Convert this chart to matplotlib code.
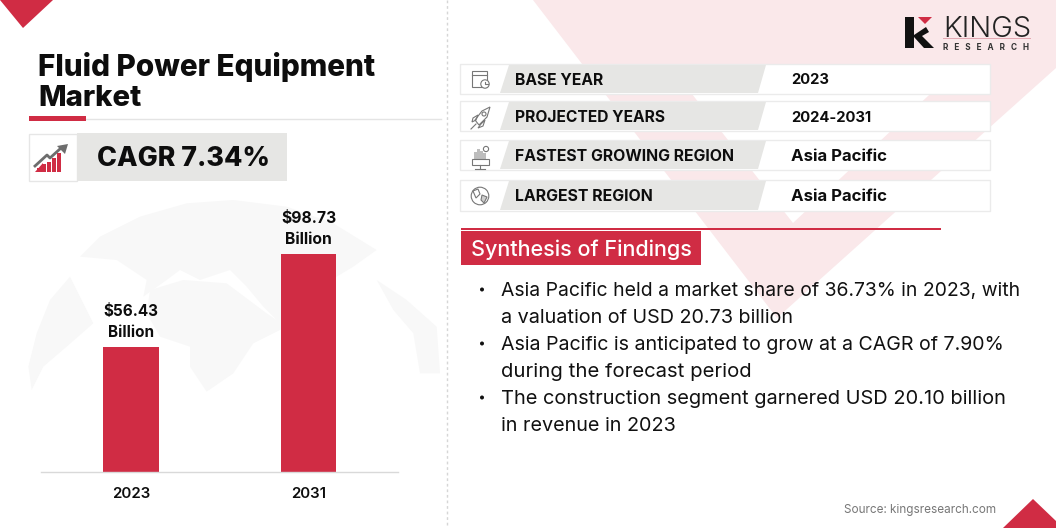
import matplotlib
matplotlib.use("Agg")
import numpy as np
import matplotlib.pyplot as plt
from matplotlib.patches import Polygon, Rectangle, Circle

plt.rcParams['font.family'] = ['Inter', 'DejaVu Sans']

# ---------- data ----------
years = ["2023", "2031"]
market_values = [56.43, 98.73]
value_unit = "Billion"
title_lines = ["Fluid Power Equipment", "Market"]
cagr_text = "CAGR 7.34%"
row_labels = ["BASE YEAR", "PROJECTED YEARS", "FASTEST GROWING REGION", "LARGEST REGION"]
row_values = ["2023", "2024-2031", "Asia Pacific", "Asia Pacific"]
findings_title = "Synthesis of Findings"
findings_lines = [
    "Asia Pacific held a market share of 36.73% in 2023, with",
    "a valuation of USD 20.73 billion",
    "Asia Pacific is anticipated to grow at a CAGR of 7.90%",
    "during the forecast period",
    "The construction segment garnered USD 20.10 billion",
    "in revenue in 2023",
]
source_text = "Source: kingsresearch.com"

RED = "#d02c44"
PINK = "#fae8ea"
GRAY = "#e6e6e4"
INK = "#0d0d0d"
W, H = 1056, 528

fig = plt.figure(figsize=(W / 100, H / 100), dpi=100, facecolor="white")
bg = fig.add_axes([0, 0, 1, 1], zorder=0)
bg.set_xlim(0, W); bg.set_ylim(H, 0); bg.axis("off")
renderer = fig.canvas.get_renderer()


def fit(t, width):
    """Scale a text object so that its rendered width is the given pixels."""
    for _ in range(3):
        w = t.get_window_extent(renderer).width
        t.set_fontsize(t.get_fontsize() * width / w)
    return t


def put(x, y, s, width, weight=500, color=INK, ha="left", size=12, ax=bg):
    t = ax.text(x, y, s, fontweight=weight, color=color, ha=ha, va="center_baseline", fontsize=size, zorder=10)
    return fit(t, width)


def poly(pts, **kw):
    kw.setdefault("lw", 0)
    p = Polygon(pts, closed=True, **kw)
    bg.add_patch(p)
    return p


def rect(x0, y0, x1, y1, **kw):
    kw.setdefault("lw", 0)
    r = Rectangle((x0, y0), x1 - x0, y1 - y0, **kw)
    bg.add_patch(r)
    return r


# background V shape
poly([(533, 0), (W, 0), (W, 68), (777, 318)], fc=PINK, zorder=1)
poly([(681, 80), (945, 80), (793, 223)], fc="white", zorder=2)

# corner triangles, divider
poly([(0, 0), (53, 0), (23, 28)], fc=RED, zorder=3)
poly([(1003, 528), (1033, 499), (W, 521), (W, 528)], fc=RED, zorder=3)
bg.plot([447, 447], [0, H], color="#d6d6d6", lw=1, ls=(0, (2, 2)), zorder=3)

# faint globe
GLOBE = "#f8f8f8"
globe_parts = [
    [(95, 570), (85, 500), (110, 400), (150, 300), (210, 230), (240, 290), (280, 370), (200, 440), (130, 500)],
    [(240, 170), (300, 110), (420, 50), (560, 10), (700, 0), (860, 20), (1000, 70), (1130, 150), (1060, 200),
     (960, 260), (900, 330), (840, 370), (790, 320), (740, 260), (690, 210), (600, 240), (540, 210), (500, 240),
     (430, 290), (440, 240), (350, 180)],
    [(450, 270), (550, 240), (680, 250), (800, 340), (860, 380), (760, 430), (700, 520), (620, 575), (570, 500),
     (570, 440), (480, 410), (440, 340)],
    [(1130, 240), (1220, 300), (1310, 380), (1320, 520), (1260, 520), (1240, 400), (1180, 330)],
]
for part in globe_parts:
    poly([(x / 3, y / 3 + 200) for x, y in part], fc=GLOBE, zorder=3)

# title block
put(38, 64.5, title_lines[0], 338, weight=800)
put(38, 96, title_lines[1], 103, weight=800)
bg.plot([86, 441], [118.5, 118.5], color="#e4e4e4", lw=1, zorder=4)
rect(29, 116, 86, 121, fc=RED, zorder=5)

# CAGR block
rect(28.5, 133.5, 76.5, 181, fc="white", ec="#e6e6e6", lw=1, zorder=4)
rect(77, 133, 287, 181, fc=GRAY, zorder=4)
put(97, 156, cagr_text, 173, weight=800)
for x0, top in zip([37, 42, 47, 52, 57], [168, 164, 162, 158, 153]):
    rect(x0, top, x0 + 3.6, 172, fc=RED, zorder=5)
poly([(35, 172), (43, 163), (43, 172)], fc=RED, zorder=5)
bg.plot([35, 47, 50, 61], [166, 155, 158, 148], color="#6d6d6d", lw=2, zorder=6)
poly([(57, 146), (68, 144), (65, 154)], fc="#6d6d6d", zorder=6)

# info rows
row_tops = [64, 101, 140, 180]
row_bots = [94, 131, 170, 211]
row_text_y = [79, 116, 155, 195]
label_widths = [88, 150, 219, 138]
value_widths = [38, 81, 96, 96]
for i in range(4):
    t, b, y = row_tops[i], row_bots[i], row_text_y[i]
    rect(460, t, 989.5, b, fc="white", ec="#ebebeb", lw=1, zorder=4)
    poly([(509, t + 1), (766, t + 1), (758, b - 1), (500, b - 1)], fc=GRAY, zorder=5)
    put(515, y, row_labels[i], label_widths[i], weight=700)
    put(791, y, row_values[i], value_widths[i], weight=700)

# line icons
IC = "#777777"
ilw = 0.8
# calendar
rect(472, 71, 487, 87, fc="none", ec=IC, lw=ilw, zorder=6)
bg.plot([472, 487], [74.5, 74.5], color=IC, lw=ilw, zorder=6)
bg.add_patch(Circle((485, 84), 4.2, fc="white", ec=IC, lw=ilw, zorder=7))
bg.plot([485, 485, 487.5], [81.5, 84, 84], color=IC, lw=ilw, zorder=8)
# rocket
poly([(490, 107), (487, 117), (479, 125), (475, 120), (482, 111)], fc="none", ec=IC, lw=ilw, zorder=6)
poly([(478, 115), (473, 118), (472, 122), (476, 120)], fc="none", ec=IC, lw=ilw, zorder=6)
poly([(485, 120), (483, 126), (478, 128), (481, 124)], fc="none", ec=IC, lw=ilw, zorder=6)
bg.add_patch(Circle((484, 114), 2, fc="none", ec=IC, lw=ilw, zorder=7))
bg.plot([471, 476], [129, 124], color=IC, lw=ilw, zorder=6)
# region chart
for x0, top in zip([474, 477, 480, 483], [152, 149, 151, 153]):
    rect(x0, top, x0 + 2.5, 159, fc="#bdbdbd", zorder=6)
bg.add_patch(Circle((486, 149), 2.6, fc="none", ec=IC, lw=ilw, zorder=6))
rect(472, 159, 489, 165, fc="none", ec=IC, lw=ilw, zorder=6)
bg.plot([480, 480], [165, 168], color=IC, lw=ilw, zorder=6)
bg.plot([475, 485], [168.5, 168.5], color=IC, lw=ilw, zorder=6)
# globe icon
bg.add_patch(Circle((480, 196), 8.8, fc="none", ec=IC, lw=ilw, zorder=6))
poly([(473, 191), (478, 189), (480, 194), (476, 198)], fc="none", ec=IC, lw=ilw, zorder=6)
poly([(482, 195), (487, 197), (484, 203), (481, 200)], fc="#cfcfcf", ec=IC, lw=ilw, zorder=6)

# logo
poly([(905, 17), (914, 17), (914, 48), (905, 48)], fc="#111111", zorder=6)
poly([(914, 35), (926, 27), (929, 32), (922, 36), (934, 48), (924, 48), (914, 37)], fc="#111111", zorder=6)
poly([(918, 17), (932, 17), (925, 24)], fc=RED, zorder=6)
put(943, 26.5, "KINGS", 88, weight=300, color="#222222", size=18)
rect(943, 37.5, 1031, 39, fc="#e3a9b3", zorder=6)
put(943, 46, "R   E   S   E   A   R   C   H", 86, weight=700, color="#333333", size=6)

# findings
rect(461, 228, 941, 230, fc=RED, zorder=6)
rect(461, 231, 701, 265, fc=RED, zorder=6)
put(471, 248, findings_title, 221, weight=500, color="white")
finding_widths = [519, 292, 503, 250, 505, 175]
for i, line in enumerate(findings_lines):
    y = 289 + i * 27
    put(501, y, line, finding_widths[i], weight=400, color="#111111")
    if i % 2 == 0:
        bg.add_patch(Circle((482, y + 0.5), 2.0, fc="#111111", lw=0, zorder=10))
put(844, 509, source_text, 152, weight=400, color="#777777")

# ---------- bar chart ----------
px_x0, px_x1, px_top, px_base = 41, 398, 200, 472
ax = fig.add_axes([px_x0 / W, 1 - px_base / H, (px_x1 - px_x0) / W, (px_base - px_top) / H], zorder=5)
ax.patch.set_alpha(0)
xpos = np.arange(len(years))
ax.bar(xpos, market_values, width=0.313, color=RED, linewidth=0)
ax.set_xlim(-0.508, 1.503)
ax.set_ylim(0, (px_base - px_top) / 2.21)
ax.set_yticks([])
ax.set_xticks(xpos)
ax.set_xticklabels(years, fontweight=600, color=INK)
ax.tick_params(axis="x", length=0, pad=11)
for s in ("top", "left", "right"):
    ax.spines[s].set_visible(False)
ax.spines["bottom"].set_color("#d9d9d9")
ax.spines["bottom"].set_linewidth(1)
for lab, w in zip(ax.get_xticklabels(), [38, 35]):
    fit(lab, w)
for x, v in zip(xpos, market_values):
    t = ax.annotate(f"${v:.2f}\n{value_unit}", (x, v), xytext=(0, 5), textcoords="offset points",
                    ha="center", va="bottom", fontweight=700, color=INK, fontsize=11, linespacing=1.5)
    fit(t, 55)

fig.savefig("out.png", dpi=100, facecolor="white")
